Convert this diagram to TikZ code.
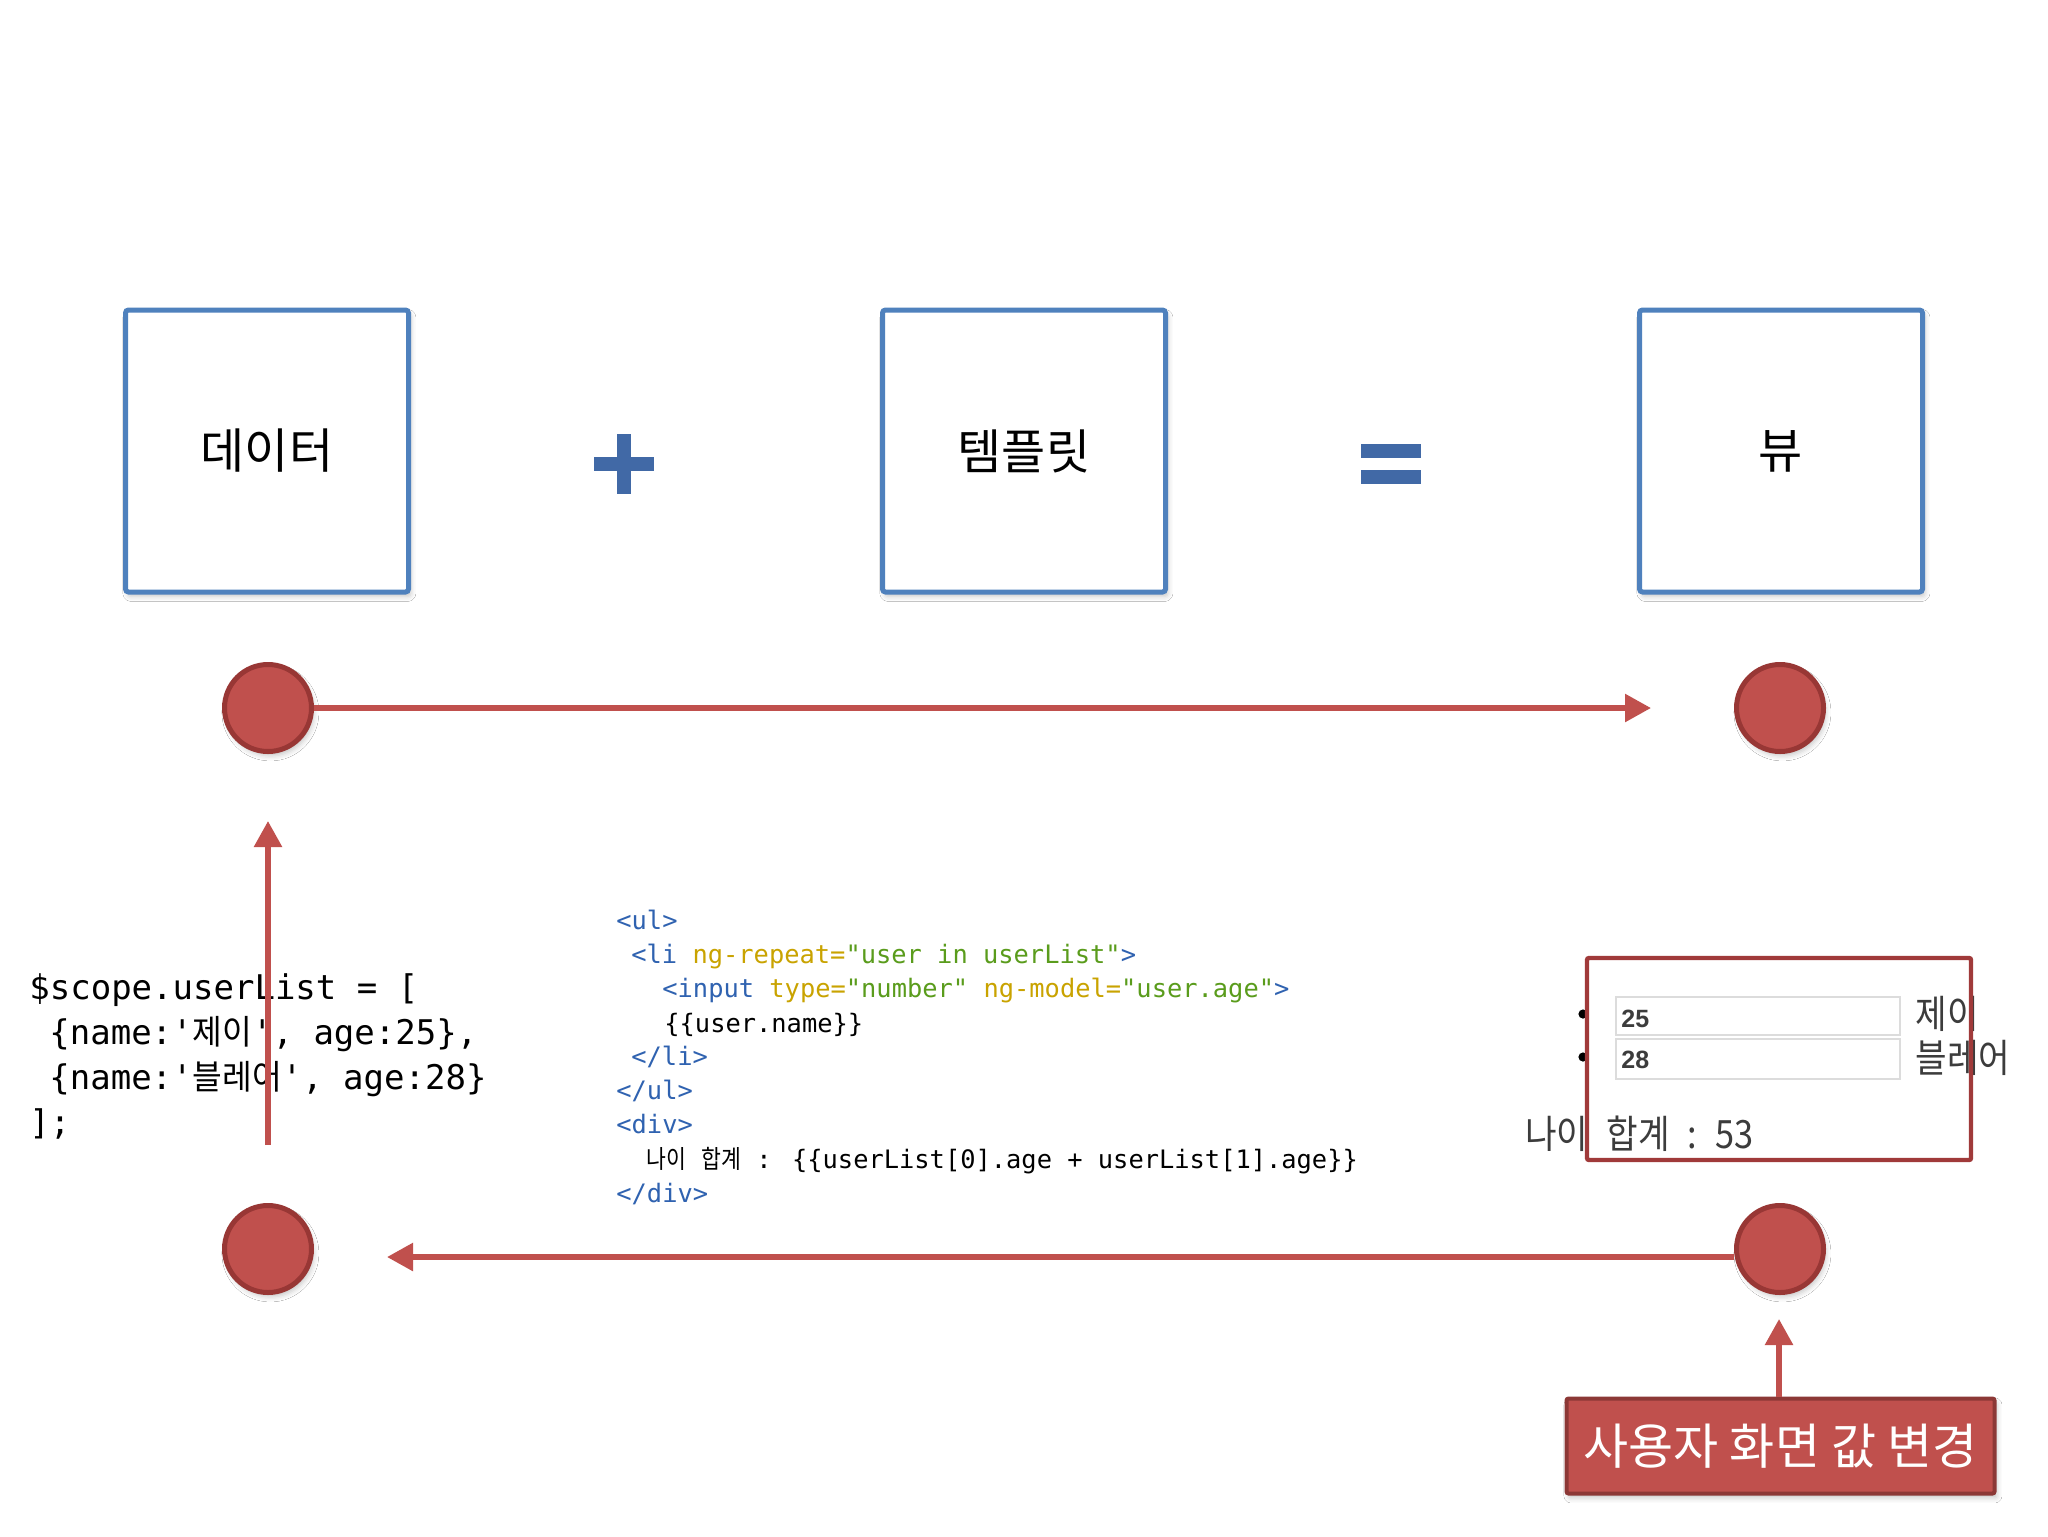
\documentclass[tikz,border=0pt]{standalone}
\usepackage{fontspec}
\setmainfont{Noto Sans CJK KR}
\newfontfamily\kr{Noto Sans CJK KR}
\newfontfamily\krm[FakeStretch=0.85]{Noto Sans CJK KR}
\newfontfamily\krj[FakeStretch=0.95]{Noto Sans CJK KR}
\newfontfamily\krui[FakeStretch=0.88]{Noto Sans CJK KR}
\newfontfamily\lmono{DejaVu Sans Mono}
\newfontfamily\uisans{Liberation Sans}
\usetikzlibrary{arrows.meta,shadows.blur}
\definecolor{boxblue}{HTML}{4F81BD}
\definecolor{signblue}{HTML}{4169A6}
\definecolor{dotred}{HTML}{C0504D}
\definecolor{dotborder}{HTML}{983735}
\definecolor{arrowred}{HTML}{C0504D}
\definecolor{labborder}{HTML}{8C3836}
\definecolor{framered}{HTML}{A03A3A}
\definecolor{tagc}{HTML}{2F62B0}
\definecolor{attrc}{HTML}{C9A300}
\definecolor{valc}{HTML}{5A9C1C}
\definecolor{uigray}{HTML}{3C3C3C}
\definecolor{fieldc}{HTML}{DCDCDC}
\begin{document}
\begin{tikzpicture}[x=0.5pt,y=-0.5pt,
  softshadow/.style={blur shadow={shadow xshift=1.2pt, shadow yshift=-2.2pt, shadow opacity=22, shadow blur radius=2.5pt}},
  bluebox/.style={draw=boxblue, line width=2.5pt, fill=white, rounded corners=1.5pt,
    minimum width=141.5pt, minimum height=141pt, inner sep=0pt,
    font=\kr\fontsize{24}{29}\selectfont, softshadow},
  reddot/.style={circle, draw=dotborder, fill=dotred, line width=2.5pt,
    minimum size=43.5pt, inner sep=0pt, softshadow},
  redarrow/.style={draw=arrowred, line width=2.8pt, -{Triangle[length=13pt,width=13.5pt]}},
  codeline/.style={anchor=base west, inner sep=0pt, font=\lmono\fontsize{12.7}{15}\selectfont},
  jsline/.style={anchor=base west, inner sep=0pt, font=\lmono\fontsize{17}{20}\selectfont},
  uitext/.style={anchor=base west, inner sep=0pt, text=uigray, font=\krui\fontsize{19.5}{23}\selectfont},
  uinum/.style={anchor=base west, inner sep=0pt, text=uigray, font=\uisans\bfseries\fontsize{12.5}{14}\selectfont},
  labelbox/.style={draw=labborder, fill=dotred, line width=2pt, rounded corners=1pt,
    minimum width=214pt, minimum height=47.5pt, inner sep=0pt, text=white,
    font=\kr\fontsize{24.5}{29}\selectfont, softshadow},
  shotframe/.style={draw=framered, line width=2.2pt, rounded corners=1pt,
    minimum width=192pt, minimum height=101pt, inner sep=0pt}
]
\useasboundingbox (0,0) rectangle (2048,1536);
\fill[white] (0,0) rectangle (2048,1536);

% top boxes
\node[bluebox] (data) at (267,451) {데이터};
\node[bluebox] (tmpl) at (1024,451) {템플릿};
\node[bluebox] (view) at (1781,451) {뷰};

% plus and equals signs
\fill[signblue] (594,457) rectangle (654,471);
\fill[signblue] (617,434) rectangle (631,494);
\fill[signblue] (1361,444) rectangle (1421,458);
\fill[signblue] (1361,470) rectangle (1421,484);

% coordinates for free arrow ends
\coordinate (toptip) at (1651,708);
\coordinate (bottip) at (387,1257);
\coordinate (vstart) at (268,1145);
\coordinate (vtip) at (268,821);
\coordinate (labtip) at (1779,1319);

% circles
\node[reddot] (c1) at (268,708) {};
\node[reddot] (c2) at (1780,708) {};
\node[reddot] (c3) at (268,1249) {};
\node[reddot] (c4) at (1780,1249) {};
\draw[redarrow] (c1.east) -- (toptip);
\draw[redarrow] (c4.west |- bottip) -- (bottip);

% left JS code
\node[jsline] (js1) at (29,999) {\$scope.userList = [};
\node[jsline] (js2) at (49,1044) {\{name:'{\krj 제이}', age:25\},};
\node[jsline] (js3) at (49,1089) {\{name:'{\krj 블레어}', age:28\}};
\node[jsline] (js4) at (29,1134) {];};

% vertical arrow over the code
\draw[redarrow] (vstart) -- (vtip);

% middle template code
\node[codeline] (t1) at (616,929) {\textcolor{tagc}{<ul>}};
\node[codeline] (t2) at (631,963) {\textcolor{tagc}{<li} \textcolor{attrc}{ng-repeat=}\textcolor{valc}{"user in userList"}\textcolor{tagc}{>}};
\node[codeline] (t3) at (662,997) {\textcolor{tagc}{<input} \textcolor{attrc}{type=}\textcolor{valc}{"number"} \textcolor{attrc}{ng-model=}\textcolor{valc}{"user.age"}\textcolor{tagc}{>}};
\node[codeline] (t4) at (664,1032) {\{\{user.name\}\}};
\node[codeline] (t5) at (631,1065) {\textcolor{tagc}{</li>}};
\node[codeline] (t6) at (616,1099) {\textcolor{tagc}{</ul>}};
\node[codeline] (t7) at (616,1133) {\textcolor{tagc}{<div>}};
\node[codeline] (t8) at (646,1168) {{\krm 나이} {\krm 합계} : \{\{userList[0].age + userList[1].age\}\}};
\node[codeline] (t9) at (616,1202) {\textcolor{tagc}{</div>}};

% screenshot of the rendered view
\fill[black] (1583,1014) circle[radius=2.3pt];
\fill[black] (1583,1057) circle[radius=2.3pt];
\draw[fieldc, line width=0.7pt] (1616,997) rectangle (1900,1035);
\draw[fieldc, line width=0.7pt] (1616,1039) rectangle (1900,1079);
\node[uinum] (n25) at (1621,1027) {25};
\node[uinum] (n28) at (1621,1068) {28};
\node[uitext] (nm1) at (1915,1028) {제이};
\node[uitext] (nm2) at (1915,1072) {블레어};
\node[uitext] (sum) at (1525,1148) {나이\hspace{9pt}합계\hspace{9pt}:\hspace{9pt}53};
\node[shotframe] (shot) at (1779,1059) {};

% bottom-right label
\node[labelbox] (lab) at (1780.5,1446) {사용자 화면 값 변경};
\draw[redarrow] (lab.north -| labtip) -- (labtip);
\end{tikzpicture}
\end{document}
